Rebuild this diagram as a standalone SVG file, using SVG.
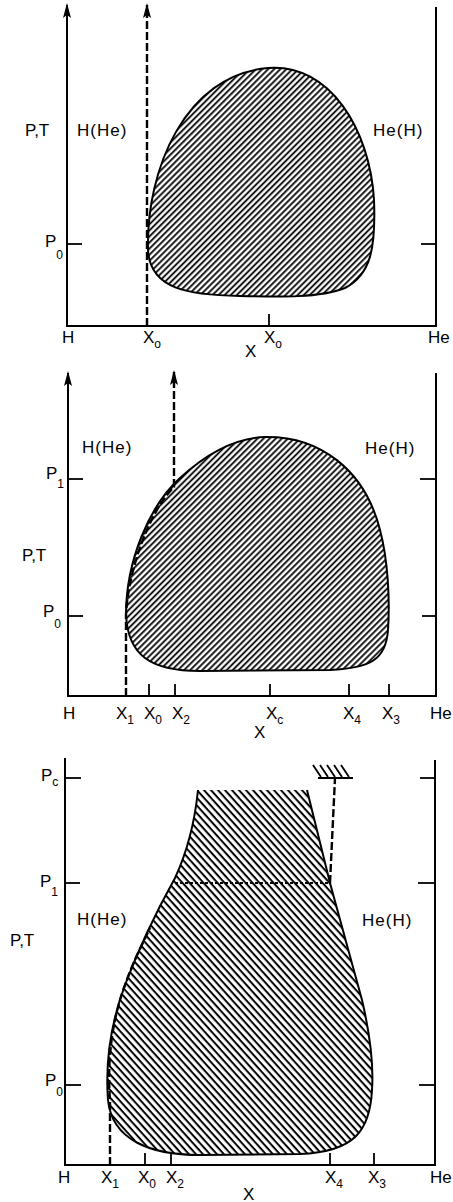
<svg xmlns="http://www.w3.org/2000/svg" width="453" height="1202" viewBox="0 0 453 1202">
<defs>
<pattern id="hatchA" patternUnits="userSpaceOnUse" width="4.3" height="10" patternTransform="rotate(45)">
<line x1="2" y1="0" x2="2" y2="10" stroke="#000" stroke-width="1.8"/>
</pattern>
<pattern id="hatchB" patternUnits="userSpaceOnUse" width="5.2" height="10" patternTransform="rotate(-42)">
<line x1="2.5" y1="0" x2="2.5" y2="10" stroke="#000" stroke-width="2"/>
</pattern>
<marker id="arr" markerUnits="userSpaceOnUse" markerWidth="16" markerHeight="10" viewBox="0 0 16 10" refX="14" refY="5" orient="auto">
<path d="M16,5 L1,1 L4,5 L1,9 Z" fill="#000"/>
</marker>
<style>
.ax{stroke:#000;stroke-width:2;fill:none}
.tk{stroke:#000;stroke-width:1.8;fill:none}
.ol{stroke:#000;stroke-width:2;fill:none}
.dsh{stroke:#000;stroke-width:2.4;fill:none;stroke-dasharray:8 3}
.dot{stroke:#000;stroke-width:2;fill:none;stroke-dasharray:3 2}
text{font-family:"Liberation Sans",Arial,sans-serif;font-size:17px;fill:#000}
.lb{letter-spacing:1px}
.sb{font-size:12px}
</style>
</defs>

<!-- Panel 1 -->
<g id="panel1">
<path d="M148,250 C146,170 185,75 268,68 C330,63 370,130 374,200 C376,250 370,275 345,288 C320,298 280,297 240,296 C190,295 150,290 148,250 Z" fill="url(#hatchA)"/>
<path class="ol" d="M148,250 C146,170 185,75 268,68 C330,63 370,130 374,200 C376,250 370,275 345,288 C320,298 280,297 240,296 C190,295 150,290 148,250 Z"/>
<line class="ax" x1="67" y1="326" x2="67" y2="5" marker-end="url(#arr)"/>
<line class="ax" x1="436" y1="7" x2="436" y2="326"/>
<line class="ax" x1="66" y1="326" x2="437" y2="326"/>
<line class="tk" x1="67" y1="244" x2="82" y2="244"/>
<line class="tk" x1="421" y1="244" x2="436" y2="244"/>
<line class="tk" x1="269" y1="314" x2="269" y2="326"/>
<text x="25" y="136">P,T</text>
<text class="lb" x="77" y="136">H(He)</text>
<text class="lb" x="373" y="136">He(H)</text>
<text x="45" y="247">P<tspan class="sb" dy="12">0</tspan></text>
<text x="62" y="343">H</text>
<text x="143" y="343">X<tspan class="sb" dy="5">o</tspan></text>
<text x="245" y="357">X</text>
<text x="264" y="343">X<tspan class="sb" dy="5">o</tspan></text>
<text x="428" y="343">He</text>
</g>

<!-- Panel 2 -->
<g id="panel2">
<path d="M126,615 C126,560 150,505 180,478 C205,455 235,438 265,437 C320,436 365,470 380,530 C388,560 390,600 388,630 C386,660 370,668 330,670 L200,671 C150,671 128,655 126,615 Z" fill="url(#hatchA)"/>
<path class="ol" d="M126,615 C126,560 150,505 180,478 C205,455 235,438 265,437 C320,436 365,470 380,530 C388,560 390,600 388,630 C386,660 370,668 330,670 L200,671 C150,671 128,655 126,615 Z"/>
<line class="ax" x1="68" y1="696" x2="68" y2="373" marker-end="url(#arr)"/>
<line class="ax" x1="436" y1="373" x2="436" y2="696"/>
<line class="ax" x1="67" y1="696" x2="437" y2="696"/>
<line class="tk" x1="68" y1="479" x2="83" y2="479"/>
<line class="tk" x1="420" y1="479" x2="436" y2="479"/>
<line class="tk" x1="68" y1="616" x2="83" y2="616"/>
<line class="tk" x1="422" y1="616" x2="436" y2="616"/>
<line class="tk" x1="149" y1="684" x2="149" y2="696"/>
<line class="tk" x1="175" y1="684" x2="175" y2="696"/>
<line class="tk" x1="270" y1="684" x2="270" y2="696"/>
<line class="tk" x1="349" y1="684" x2="349" y2="696"/>
<line class="tk" x1="389" y1="684" x2="389" y2="696"/>
<text class="lb" x="82" y="453">H(He)</text>
<text class="lb" x="365" y="454">He(H)</text>
<text x="46" y="479">P<tspan class="sb" dy="9">1</tspan></text>
<text x="22" y="561">P,T</text>
<text x="43" y="617">P<tspan class="sb" dy="11">0</tspan></text>
<text x="63" y="719">H</text>
<text x="116" y="719">X<tspan class="sb" dy="5">1</tspan></text>
<text x="144" y="719">X<tspan class="sb" dy="5">0</tspan></text>
<text x="172" y="719">X<tspan class="sb" dy="5">2</tspan></text>
<text x="266" y="719">X<tspan class="sb" dy="5">c</tspan></text>
<text x="343" y="719">X<tspan class="sb" dy="5">4</tspan></text>
<text x="382" y="719">X<tspan class="sb" dy="5">3</tspan></text>
<text x="430" y="719">He</text>
<text x="254" y="738">X</text>
</g>

<!-- Panel 3 -->
<g id="panel3">
<path d="M198,790 L307,790 L330,883 L362,1000 C369,1030 374,1060 372,1090 C370,1130 355,1152 300,1154 L200,1155 C150,1155 112,1140 108,1100 C105,1060 112,1020 125,985 C140,945 160,905 175,878 C188,850 195,820 198,790 Z" fill="url(#hatchB)"/>
<path class="ol" d="M307,790 L330,883 L362,1000 C369,1030 374,1060 372,1090 C370,1130 355,1152 300,1154 L200,1155 C150,1155 112,1140 108,1100 C105,1060 112,1020 125,985 C140,945 160,905 175,878 C188,850 195,820 198,790"/>
<line class="dot" x1="175" y1="883" x2="330" y2="883"/>
<line class="ax" x1="65" y1="758" x2="65" y2="1165"/>
<line class="ax" x1="435" y1="760" x2="435" y2="1165"/>
<line class="ax" x1="64" y1="1165" x2="436" y2="1165"/>
<line class="tk" x1="65" y1="778" x2="81" y2="778"/>
<line class="tk" x1="420" y1="778" x2="435" y2="778"/>
<line class="tk" x1="65" y1="883" x2="80" y2="883"/>
<line class="tk" x1="418" y1="883" x2="434" y2="883"/>
<line class="tk" x1="65" y1="1085" x2="81" y2="1085"/>
<line class="tk" x1="419" y1="1085" x2="434" y2="1085"/>
<line class="tk" x1="145" y1="1153" x2="145" y2="1165"/>
<line class="tk" x1="171" y1="1153" x2="171" y2="1165"/>
<line class="tk" x1="330" y1="1153" x2="330" y2="1165"/>
<line class="tk" x1="374" y1="1153" x2="374" y2="1165"/>
<g id="hatchmark">
<line class="tk" x1="318" y1="778" x2="353" y2="778"/>
<path class="tk" d="M313,765 L321,777 M320,765 L328,777 M327,765 L335,777 M334,765 L342,777 M341,765 L349,777" stroke-width="1.6"/>
</g>
<text x="41" y="781">P<tspan class="sb" dy="5">c</tspan></text>
<text x="40" y="887">P<tspan class="sb" dy="9">1</tspan></text>
<text x="10" y="946">P,T</text>
<text class="lb" x="77" y="925">H(He)</text>
<text class="lb" x="362" y="926">He(H)</text>
<text x="45" y="1086">P<tspan class="sb" dy="10">0</tspan></text>
<text x="58" y="1183">H</text>
<text x="101" y="1183">X<tspan class="sb" dy="5">1</tspan></text>
<text x="138" y="1183">X<tspan class="sb" dy="5">0</tspan></text>
<text x="166" y="1183">X<tspan class="sb" dy="5">2</tspan></text>
<text x="325" y="1183">X<tspan class="sb" dy="5">4</tspan></text>
<text x="368" y="1183">X<tspan class="sb" dy="5">3</tspan></text>
<text x="430" y="1183">He</text>
<text x="243" y="1200">X</text>
</g>

<!-- Connectors (dashed paths) -->
<g id="connectors">
<line class="dsh" x1="147" y1="326" x2="147" y2="5" marker-end="url(#arr)"/>
<path class="dsh" d="M126,696 V615 C128,570 150,510 174,487 V372" marker-end="url(#arr)"/>
<path class="dsh" d="M110,1165 V1100 C107,1060 112,1020 125,985 C133,962 142,945 150,928"/>
<path class="dsh" d="M330,883 L335,778"/>
</g>
</svg>
